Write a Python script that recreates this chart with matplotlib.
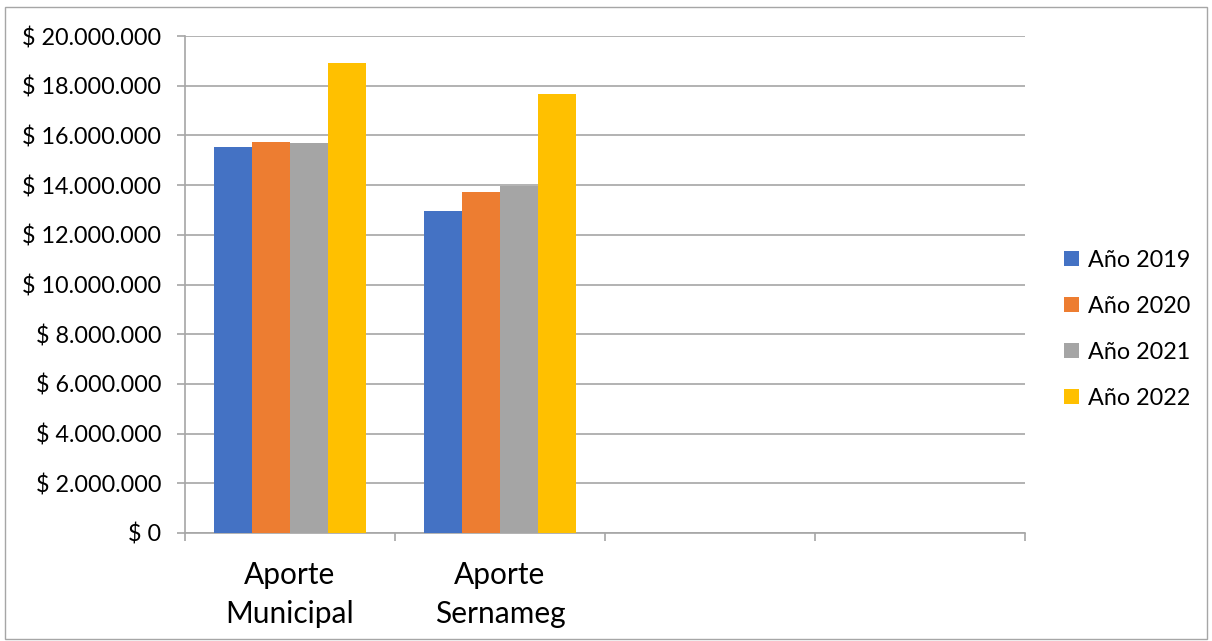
import matplotlib
matplotlib.use("Agg")
import matplotlib.pyplot as plt
import numpy as np
from matplotlib.patches import Rectangle

categories = ["Aporte\nMunicipal", "Aporte\nSernameg", "", ""]
series_names = ["Año 2019", "Año 2020", "Año 2021", "Año 2022"]
colors = ["#4472C4", "#ED7D31", "#A5A5A5", "#FFC000"]
values = {
    "Año 2019": [15530000, 12970000, 0, 0],
    "Año 2020": [15720000, 13720000, 0, 0],
    "Año 2021": [15680000, 13950000, 0, 0],
    "Año 2022": [18900000, 17670000, 0, 0],
}
y_ticks = list(range(0, 20000001, 2000000))

plt.rcParams["font.family"] = ["Lato", "DejaVu Sans"]

fig = plt.figure(figsize=(12.12, 6.41), dpi=100)
ax = fig.add_axes([0.1526, 0.1685, 0.6931, 0.7753])

x = np.arange(len(categories))
bar_w = 0.18
for i, name in enumerate(series_names):
    offs = (i - 1.5) * bar_w
    vals = values[name]
    ax.bar(x + offs, vals, width=bar_w, color=colors[i], label=name, zorder=3)

ax.set_xlim(-0.5, len(categories) - 0.5)
ax.set_ylim(0, 20000000)
ax.set_yticks(y_ticks)


def fmt(v):
    if v == 0:
        return "$ 0"
    return "$ " + f"{v:,}".replace(",", ".")


ax.set_yticklabels([fmt(v) for v in y_ticks])
ax.set_xticks(np.arange(-0.5, len(categories), 1.0))
ax.set_xticklabels([])
ax.set_xticks(x, minor=True)
ax.set_xticklabels(categories, minor=True, linespacing=1.5)
ax.tick_params(axis="x", which="minor", length=0, pad=20, labelsize=21.5)
ax.tick_params(axis="x", which="major", length=6, color="#A6A6A6", width=1.2)
ax.tick_params(axis="y", length=6, color="#A6A6A6", width=1.2, pad=11, labelsize=16.8)

ax.grid(axis="y", color="#A6A6A6", linewidth=1.2, zorder=0)
for s in ["top", "right"]:
    ax.spines[s].set_visible(False)
for s in ["left", "bottom"]:
    ax.spines[s].set_color("#A6A6A6")
    ax.spines[s].set_linewidth(1.2)

ax.legend(loc="center left", bbox_to_anchor=(1.021, 0.41), frameon=False,
          fontsize=16.8, handlelength=0.65, handleheight=0.65, handletextpad=0.4,
          labelspacing=1.07)

fig.patches.append(Rectangle((0.004, 0.003), 0.992, 0.986, transform=fig.transFigure,
                             fill=False, edgecolor="#A6A6A6", linewidth=1))

fig.savefig("out.png", dpi=100)
